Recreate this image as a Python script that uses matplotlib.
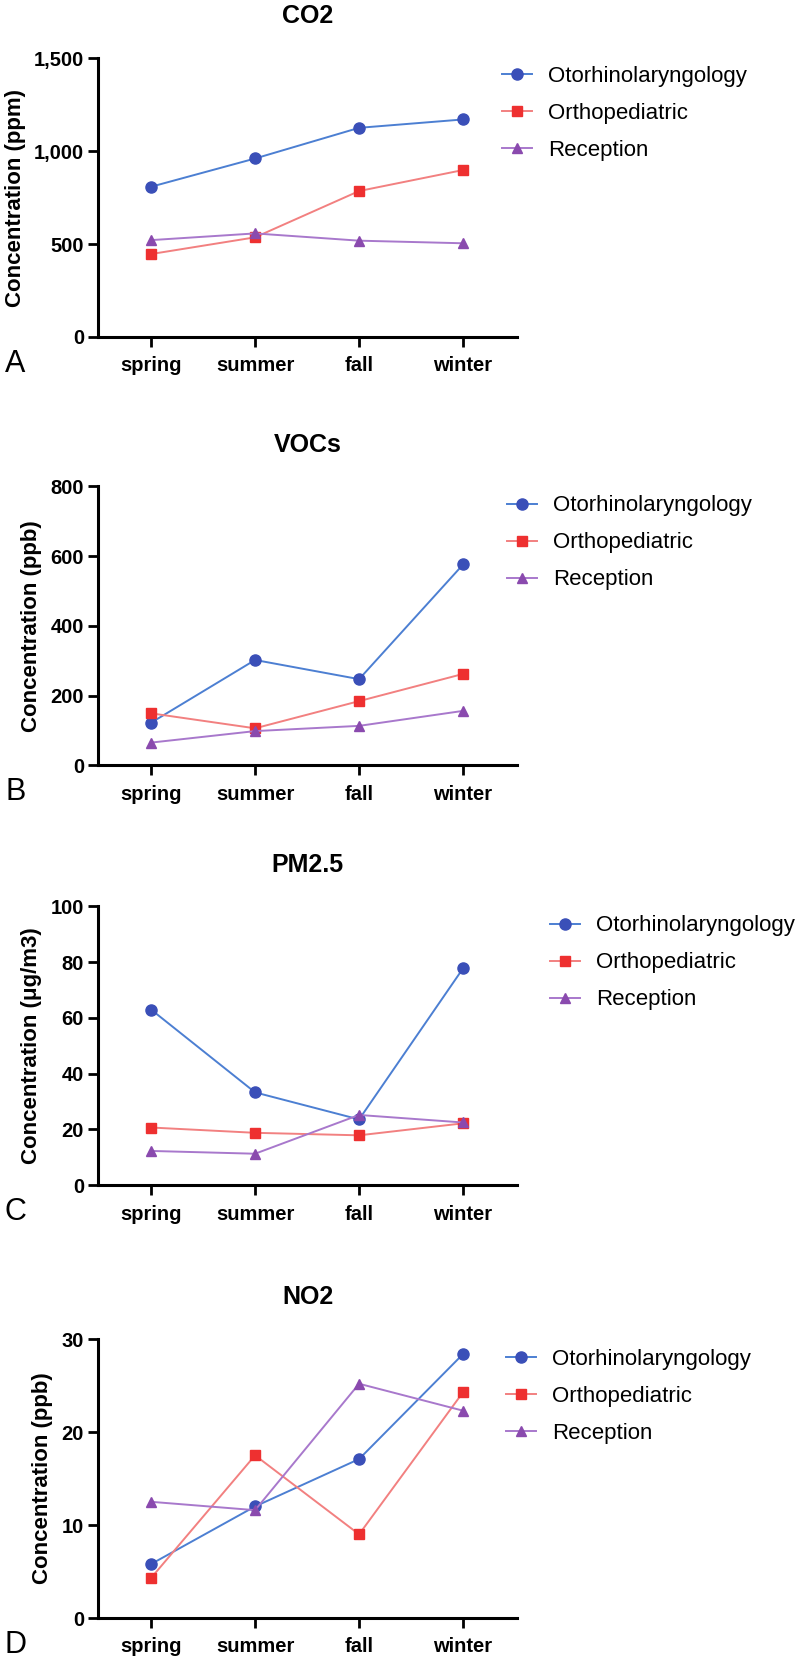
import matplotlib
matplotlib.use("Agg")
import matplotlib.pyplot as plt
from matplotlib.ticker import FuncFormatter

plt.rcParams["font.family"] = ["Liberation Sans", "DejaVu Sans"]

seasons = ["spring", "summer", "fall", "winter"]
groups = ["Otorhinolaryngology", "Orthopediatric", "Reception"]

co2_oto = [808, 960, 1125, 1170]
co2_ortho = [446, 536, 785, 898]
co2_recep = [521, 557, 518, 504]

voc_oto = [122, 302, 247, 576]
voc_ortho = [149, 106, 184, 262]
voc_recep = [65, 98, 113, 156]

pm_oto = [63.0, 33.3, 23.6, 77.8]
pm_ortho = [20.7, 18.8, 17.9, 22.2]
pm_recep = [12.3, 11.3, 25.2, 22.5]

no2_oto = [5.8, 12.0, 17.1, 28.4]
no2_ortho = [4.3, 17.5, 9.0, 24.3]
no2_recep = [12.5, 11.6, 25.2, 22.3]

# (marker colour, line colour, marker, size)
styles = [
    ("#3a4fb8", "#4c7fd2", "o", 8),
    ("#ee3030", "#f28080", "s", 7.5),
    ("#8a4aae", "#a878cc", "^", 7),
]

panels = [
    ("CO2", "Concentration (ppm)", [co2_oto, co2_ortho, co2_recep],
     1500, 500, "A", 0.797, (0.6275, 0.9316)),
    ("VOCs", "Concentration (ppb)", [voc_oto, voc_ortho, voc_recep],
     800, 200, "B", 0.539, (0.634, 0.6729)),
    ("PM2.5", "Concentration (\u03bcg/m3)", [pm_oto, pm_ortho, pm_recep],
     100, 20, "C", 0.286, (0.6875, 0.4199)),
    ("NO2", "Concentration (ppb)", [no2_oto, no2_ortho, no2_recep],
     30, 10, "D", 0.0253, (0.6325, 0.159)),
]

fig = plt.figure(figsize=(8, 16.6), dpi=100)
x = list(range(len(seasons)))

for title, ylabel, series, ymax, step, letter, bottom, leg_xy in panels:
    ax = fig.add_axes([0.1225, bottom, 0.524, 0.168])
    for vals, name, (mc, lc, mk, ms) in zip(series, groups, styles):
        ax.plot(x, vals, color=lc, lw=1.4, marker=mk, ms=ms,
                mfc=mc, mec=mc, label=name)
    ax.set_xlim(-0.51, 3.52)
    ax.set_ylim(0, ymax)
    ax.set_yticks(range(0, ymax + 1, step))
    ax.yaxis.set_major_formatter(FuncFormatter(lambda v, p: f"{int(v):,}"))
    ax.set_xticks(x)
    ax.set_xticklabels(seasons)
    for s in ("top", "right"):
        ax.spines[s].set_visible(False)
    for s in ("left", "bottom"):
        ax.spines[s].set_linewidth(2.2)
    ax.tick_params(axis="both", length=7, width=2, labelsize=14.5)
    ax.tick_params(axis="x", pad=7)
    ax.tick_params(axis="y", pad=3)
    for lab in ax.get_xticklabels() + ax.get_yticklabels():
        lab.set_fontweight("bold")
    ax.set_ylabel(ylabel, fontsize=16, fontweight="bold", labelpad=6)
    ax.set_title(title, fontsize=18, fontweight="bold", pad=25)
    ax.legend(loc="center left", bbox_to_anchor=leg_xy,
              bbox_transform=fig.transFigure, frameon=False, fontsize=16,
              borderpad=0, borderaxespad=0, handlelength=1.33,
              handletextpad=0.75, labelspacing=0.72)
    fig.text(0.019, bottom - 27 / 1660, letter, fontsize=22,
             ha="center", va="center")

fig.savefig("out.png", dpi=100)
